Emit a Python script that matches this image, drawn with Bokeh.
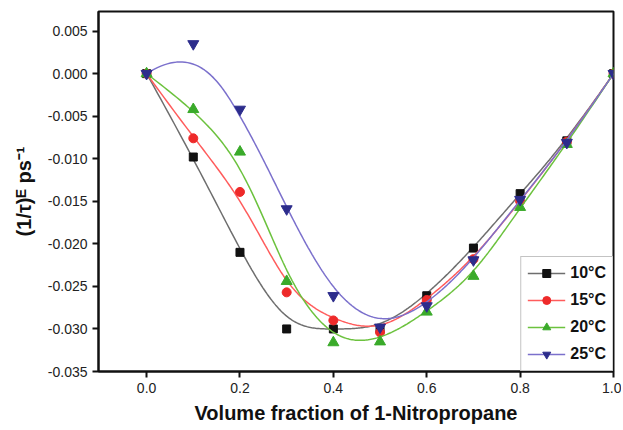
import numpy as np
from bokeh.plotting import figure
from bokeh.models import Range1d, FixedTicker, PrintfTickFormatter, Legend, LegendItem
from bokeh.embed import file_html
from bokeh.resources import INLINE

# ---- data ----
x_frac = [0.0, 0.1, 0.2, 0.3, 0.4, 0.5, 0.6, 0.7, 0.8, 0.9, 1.0]
y_10C = [0.0, -0.0098, -0.0210, -0.0300, -0.0300, -0.0300, -0.0261, -0.0205, -0.0141, -0.0079, 0.0]
y_15C = [0.0, -0.0076, -0.0139, -0.0257, -0.0290, -0.0304, -0.0266, -0.0218, -0.0150, -0.0080, 0.0]
y_20C = [0.0, -0.0042, -0.0092, -0.0244, -0.0316, -0.0315, -0.0280, -0.0238, -0.0157, -0.0083, 0.0]
y_25C = [0.0, 0.0035, -0.0042, -0.0159, -0.0261, -0.0298, -0.0273, -0.0219, -0.0148, -0.0081, 0.0]
labels = ["10°C", "15°C", "20°C", "25°C"]
x_ticks = [0.0, 0.2, 0.4, 0.6, 0.8, 1.0]
y_ticks = [-0.035, -0.030, -0.025, -0.020, -0.015, -0.010, -0.005, 0.0, 0.005]


def bspline(cx, cy, n=300, k=3):
    """Clamped uniform cubic B-spline using data points as control points."""
    cx = np.asarray(cx, float)
    cy = np.asarray(cy, float)
    m = len(cx)
    inner = np.linspace(0, 1, m - k + 1)
    knots = np.concatenate([[0.0] * k, inner, [1.0] * k])
    t = np.linspace(0, 1, n)
    nk = len(knots) - 1
    N = np.zeros((n, nk))
    for i in range(nk):
        N[:, i] = ((t >= knots[i]) & (t < knots[i + 1])).astype(float)
    last = max(i for i in range(nk) if knots[i] < knots[i + 1])
    N[t >= knots[-1], last] = 1.0
    for d in range(1, k + 1):
        Nn = np.zeros((n, nk - d))
        for i in range(nk - d):
            a = knots[i + d] - knots[i]
            b = knots[i + d + 1] - knots[i + 1]
            term = np.zeros(n)
            if a > 0:
                term += (t - knots[i]) / a * N[:, i]
            if b > 0:
                term += (knots[i + d + 1] - t) / b * N[:, i + 1]
            Nn[:, i] = term
        N = Nn
    return N @ cx, N @ cy


FONT = "Liberation Sans"

p = figure(frame_width=515, frame_height=360, output_backend="svg", toolbar_location=None,
           min_border_left=98, min_border_right=8, min_border_top=11, min_border_bottom=52,
           x_range=Range1d(-0.103, 1.0), y_range=Range1d(-0.035, 0.0073))
p.background_fill_color = "white"
p.border_fill_color = "white"
p.xgrid.visible = False
p.ygrid.visible = False
p.outline_line_color = "#111111"
p.outline_line_width = 2
p.outline_line_alpha = 1.0

for ax in (p.xaxis[0], p.yaxis[0]):
    ax.axis_line_width = 2
    ax.axis_line_color = "#111111"
    ax.major_tick_line_width = 2
    ax.major_tick_line_color = "#111111"
    ax.major_tick_in = 0
    ax.major_tick_out = 6
    ax.minor_tick_line_color = None
    ax.major_label_text_font = FONT
    ax.major_label_text_font_size = "14px"
    ax.major_label_text_color = "#222222"
    ax.axis_label_text_font = FONT
    ax.axis_label_text_font_style = "bold"
    ax.axis_label_text_font_size = "20px"
    ax.axis_label_text_color = "#111111"

p.xaxis.ticker = FixedTicker(ticks=x_ticks)
p.xaxis.formatter = PrintfTickFormatter(format="%.1f")
p.yaxis.ticker = FixedTicker(ticks=y_ticks)
p.yaxis.formatter = PrintfTickFormatter(format="%.3f")
p.xaxis.axis_label = "Volume fraction of 1-Nitropropane"
p.yaxis.axis_label = "(1/τ)ᴱ ps⁻¹"
p.xaxis.axis_label_standoff = 6
p.yaxis.axis_label_standoff = 10

series = [
    (y_10C, "#6e6e6e", "#111111", "square", 8),
    (y_15C, "#ff5c5c", "#ee2a2a", "circle", 9),
    (y_20C, "#6cc23e", "#3aaa2a", "triangle", 11),
    (y_25C, "#7b70cc", "#2c2c8c", "inverted_triangle", 11),
]

items = []
for (ys, lc, mc, mk, sz), lab in zip(series, labels):
    sx, sy = bspline(x_frac, ys)
    r_line = p.line(sx, sy, line_color=lc, line_width=1.5)
    r_pts = p.scatter(x_frac, ys, marker=mk, size=sz, fill_color=mc, line_color=mc)
    items.append(LegendItem(label=lab, renderers=[r_line, r_pts]))

legend = Legend(items=items, location="bottom_right", margin=0, padding=6, spacing=7,
                glyph_width=38, glyph_height=20, label_height=20, label_standoff=5,
                label_text_font=FONT, label_text_font_style="bold", label_text_font_size="16px",
                label_text_color="#111111", border_line_color="#888888", border_line_width=1,
                background_fill_color="white", background_fill_alpha=1.0)
p.add_layout(legend)

open("out.html", "w").write(file_html(p, INLINE))
